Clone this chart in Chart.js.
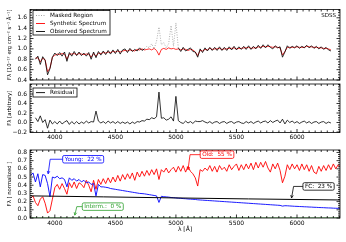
<!DOCTYPE html>
<html><head><meta charset="utf-8">
<script src="https://cdn.jsdelivr.net/npm/chart.js@4/dist/chart.umd.min.js"></script>
<style>
html,body{margin:0;padding:0;background:#fff;}
#wrap{position:relative;width:346px;height:242px;overflow:hidden;}
canvas{position:absolute;left:0;top:0;}
</style></head><body>
<div id="wrap">
<canvas id="c1" width="346" height="242"></canvas>
<canvas id="c2" width="346" height="242"></canvas>
<canvas id="c3" width="346" height="242"></canvas>
</div>
<script>
// ---- data (wavelength grid in Angstrom) ----
const wavelengths = [
3800,3820,3840,3860,3880,3900,3920,3940,3960,3980,
4000,4020,4040,4060,4080,4100,4120,4140,4160,4180,
4200,4220,4240,4260,4280,4300,4320,4340,4360,4380,
4400,4420,4440,4460,4480,4500,4520,4540,4560,4580,
4600,4620,4640,4660,4680,4700,4720,4740,4760,4780,
4800,4820,4840,4860,4880,4900,4920,4940,4960,4980,
5000,5020,5040,5060,5080,5100,5120,5140,5160,5180,
5200,5220,5240,5260,5280,5300,5320,5340,5360,5380,
5400,5420,5440,5460,5480,5500,5520,5540,5560,5580,
5600,5620,5640,5660,5680,5700,5720,5740,5760,5780,
5800,5820,5840,5860,5880,5900,5920,5940,5960,5980,
6000,6020,6040,6060,6080,6100,6120,6140,6160,6180,
6200,6220,6240,6260,6280,6300,6320,6340,6360];

const observed = [
null,null,0.80,0.86,0.70,0.85,0.78,0.50,0.62,0.84,
0.92,0.87,0.93,0.86,0.94,0.76,0.93,0.86,0.95,0.87,
0.94,0.87,0.92,0.86,0.93,0.80,0.94,0.83,0.95,0.88,
0.96,0.89,0.97,0.90,0.98,0.91,0.99,0.90,0.98,1.00,
0.93,1.01,0.95,0.99,0.96,1.02,0.97,1.00,null,null,
null,null,null,null,null,null,null,null,null,null,
null,1.02,0.95,1.03,0.96,0.99,1.02,0.95,0.94,0.84,
1.00,0.93,1.02,0.96,1.03,0.97,1.03,0.97,1.04,0.97,
1.03,0.97,1.04,0.98,1.05,0.98,1.04,0.99,1.05,0.99,
1.06,0.99,1.05,1.00,1.07,1.01,1.08,1.02,1.08,1.03,
1.00,1.06,1.02,1.04,0.84,0.94,1.06,1.01,1.05,1.02,
1.06,1.01,1.05,1.02,1.07,1.02,1.06,1.01,1.05,1.00,
1.04,0.99,1.03,0.98,0.96,null,null,null,null];

const masked = [
null,null,null,null,null,null,null,null,null,null,
null,null,null,null,null,null,null,null,null,null,
null,null,null,null,null,null,null,null,null,null,
null,null,null,null,null,null,null,null,null,null,
null,null,null,null,null,null,null,1.00,1.05,1.02,
1.10,1.00,1.15,1.42,1.08,1.12,1.02,1.10,1.45,1.05,
1.50,1.02,null,null,null,null,null,null,null,null,
null,null,null,null,null,null,null,null,null,null,
null,null,null,null,null,null,null,null,null,null,
null,null,null,null,null,null,null,null,null,null,
null,null,null,null,null,null,null,null,null,null,
null,null,null,null,null,null,null,null,null,null,
null,null,null,null,null,null,null,null,null];

const synthetic = [
null,null,0.82,0.83,0.75,0.82,0.79,0.56,0.63,0.84,
0.88,0.90,0.89,0.91,0.90,0.80,0.90,0.90,0.91,0.89,
0.91,0.90,0.89,0.90,0.90,0.84,0.91,0.86,0.92,0.91,
0.93,0.92,0.94,0.93,0.95,0.94,0.96,0.94,0.96,0.97,
0.96,0.98,0.97,0.96,0.99,0.98,1.00,0.98,0.99,1.00,
0.98,1.01,0.97,0.88,0.99,1.01,0.99,1.02,1.00,1.01,
0.99,1.00,0.98,1.00,0.99,0.97,0.99,0.98,0.94,0.87,
0.97,0.96,0.99,0.98,1.01,0.99,1.00,1.00,1.01,0.99,
1.00,1.00,1.01,1.01,1.02,1.00,1.01,1.01,1.02,1.02,
1.03,1.01,1.02,1.02,1.04,1.03,1.05,1.04,1.05,1.04,
1.03,1.04,1.03,1.02,0.88,0.95,1.03,1.03,1.03,1.03,
1.04,1.03,1.03,1.03,1.05,1.04,1.04,1.03,1.03,1.02,
1.02,1.01,1.01,1.00,0.98,null,null,null,null];

const residual = [
null,null,0.10,0.02,0.14,0.00,0.06,-0.12,0.05,-0.03,
0.02,-0.03,0.03,-0.03,0.01,0.04,-0.04,0.02,-0.03,0.02,
-0.03,0.01,-0.02,0.03,-0.01,0.02,0.01,0.24,0.03,-0.01,
0.02,-0.02,0.03,-0.01,0.02,-0.02,0.02,-0.02,0.01,-0.02,
0.01,-0.03,0.01,-0.02,0.02,0.01,0.04,0.03,0.07,0.06,
0.10,0.08,0.12,0.64,0.09,0.10,0.05,0.07,0.12,0.03,
0.55,0.04,0.00,-0.02,0.03,-0.01,0.02,-0.02,0.03,0.02,
0.02,0.04,0.01,-0.01,0.02,-0.02,0.01,0.02,-0.02,0.01,
0.02,-0.02,0.01,0.02,-0.02,0.01,0.02,-0.01,-0.02,0.02,
-0.01,0.02,-0.02,0.01,0.03,-0.01,0.02,0.03,-0.01,0.04,
0.00,0.03,0.05,-0.01,0.07,-0.03,0.05,0.00,0.03,-0.01,
0.02,-0.02,0.01,0.03,-0.01,0.02,-0.02,0.01,0.02,-0.02,
0.01,0.02,-0.02,0.01,-0.01,null,null,null,null];

const young = [
0.52,0.55,0.44,0.54,0.38,0.53,0.52,0.42,0.26,0.50,
0.49,0.51,0.48,0.49,0.47,0.38,0.49,0.46,0.48,0.45,
0.47,0.44,0.46,0.43,0.44,0.41,0.42,0.27,0.41,0.38,
0.38,0.375,0.37,0.36,0.355,0.35,0.345,0.34,0.335,0.33,
0.325,0.32,0.315,0.31,0.305,0.30,0.298,0.295,0.29,0.285,
0.28,0.275,0.27,0.19,0.265,0.26,0.258,0.255,0.25,0.248,
0.245,0.242,0.24,0.237,0.235,0.232,0.23,0.228,0.226,0.222,
0.22,0.218,0.216,0.214,0.212,0.21,0.208,0.206,0.204,0.202,
0.20,0.198,0.196,0.194,0.192,0.19,0.188,0.186,0.184,0.182,
0.18,0.178,0.176,0.174,0.172,0.17,0.168,0.166,0.164,0.162,
0.16,0.158,0.156,0.154,0.145,0.15,0.149,0.147,0.145,0.143,
0.142,0.14,0.139,0.137,0.136,0.134,0.133,0.131,0.13,0.128,
0.127,0.126,0.124,0.123,0.122,0.12,0.119,0.118,0.117];

const old = [
0.24,0.27,0.19,0.15,0.23,0.26,0.18,0.06,0.09,0.23,
0.37,0.41,0.35,0.42,0.36,0.29,0.43,0.37,0.44,0.36,
0.43,0.41,0.37,0.46,0.40,0.32,0.46,0.35,0.47,0.41,
0.48,0.42,0.49,0.43,0.50,0.44,0.52,0.45,0.53,0.47,
0.54,0.48,0.55,0.46,0.56,0.50,0.57,0.51,0.58,0.52,
0.59,0.53,0.60,0.47,0.59,0.56,0.61,0.55,0.59,0.62,
0.56,0.63,0.57,0.64,0.56,0.63,0.57,0.54,0.49,0.39,
0.59,0.57,0.61,0.58,0.64,0.57,0.63,0.56,0.64,0.59,
0.62,0.57,0.65,0.59,0.63,0.66,0.58,0.65,0.59,0.66,
0.60,0.67,0.59,0.68,0.61,0.68,0.62,0.69,0.61,0.56,
0.66,0.60,0.67,0.58,0.43,0.51,0.65,0.59,0.66,0.60,
0.65,0.58,0.66,0.59,0.65,0.57,0.64,0.56,0.54,0.63,
0.57,0.64,0.58,0.65,0.59,0.66,0.60,0.65,0.62];

const fcWave = [3800, 4400, 5000, 5600, 6360];
const fcFlux = [0.270, 0.258, 0.245, 0.233, 0.220];
const intermWave = [3800, 6360];
const intermFlux = [0, 0];

const xTicks = [4000, 4500, 5000, 5500, 6000];
const yTicksTop = [0.4, 0.6, 0.8, 1.0, 1.2, 1.4, 1.6];
const yTicksMid = [-0.2, 0.0, 0.2, 0.4, 0.6];
const yTicksBot = [0.0, 0.1, 0.2, 0.3, 0.4, 0.5, 0.6, 0.7, 0.8];

const annotations = [
  {text:'Young:  22 %', color:'#0000ff', x:3945, y:0.54, dx:35, dy:-14.5},
  {text:'Old:  55 %', color:'#ff0000', x:5100, y:0.59, dx:29, dy:-15},
  {text:'FC:  23 %', color:'#000000', x:5955, y:0.245, dx:27, dy:-11.5},
  {text:'Interm.:  0 %', color:'#2ca02c', x:4165, y:0.035, dx:28, dy:-8.5}
];

// ---- helpers ----
const X_MIN = 3795, X_MAX = 6355;
const FONT = "'DejaVu Sans', sans-serif";
Chart.defaults.font.family = FONT;
Chart.defaults.color = '#000';
const pts = (wv, vals) => wv.map((w, i) => ({x: w, y: vals[i]}));
const fmt = v => (v < -1e-9 ? '\u2212' : '') + Math.abs(v).toFixed(1);

function xScale(showLabels, height, title) {
  return {
    type: 'linear', min: X_MIN, max: X_MAX,
    grid: {display: false, drawTicks: false}, border: {display: false},
    afterBuildTicks: s => { s.ticks = xTicks.map(v => ({value: v})); },
    afterFit: s => { s.height = height; },
    ticks: {display: showLabels, font: {size: 6}, padding: 1.5, maxRotation: 0, autoSkip: false, callback: v => String(v)},
    title: title ? {display: true, text: title, font: {size: 6}, padding: 0} : {display: false}
  };
}
function yScale(min, max, ticks, title) {
  return {
    type: 'linear', min, max,
    grid: {display: false, drawTicks: false}, border: {display: false},
    afterBuildTicks: s => { s.ticks = ticks.map(v => ({value: v})); },
    afterFit: s => { s.width = 24; },
    ticks: {font: {size: 6}, padding: 3, autoSkip: false, callback: v => fmt(v)},
    title: {display: true, text: title, font: {size: 5.3}, padding: 0}
  };
}

const framePlugin = {
  id: 'frame',
  afterDatasetsDraw(chart, args, o) {
    const {ctx, chartArea: a} = chart;
    const x = chart.scales.x, y = chart.scales.y;
    ctx.save();
    ctx.strokeStyle = '#000'; ctx.lineWidth = 0.8;
    ctx.beginPath();
    const vt = (p, len) => { ctx.moveTo(p, a.bottom); ctx.lineTo(p, a.bottom - len); ctx.moveTo(p, a.top); ctx.lineTo(p, a.top + len); };
    const ht = (p, len) => { ctx.moveTo(a.left, p); ctx.lineTo(a.left + len, p); ctx.moveTo(a.right, p); ctx.lineTo(a.right - len, p); };
    xTicks.forEach(v => vt(x.getPixelForValue(v), 3.5));
    const xs = Math.ceil(x.min / o.xMinor);
    for (let k = xs; k * o.xMinor <= x.max; k++) {
      const v = k * o.xMinor;
      if (xTicks.some(t => Math.abs(t - v) < 1e-6)) continue;
      vt(x.getPixelForValue(v), 2);
    }
    const majors = y.ticks.map(t => t.value);
    majors.forEach(v => ht(y.getPixelForValue(v), 3.5));
    const ys = Math.ceil(y.min / o.yMinor - 1e-9);
    for (let k = ys; k * o.yMinor <= y.max + 1e-9; k++) {
      const v = k * o.yMinor;
      if (majors.some(t => Math.abs(t - v) < 1e-6)) continue;
      ht(y.getPixelForValue(v), 2);
    }
    ctx.stroke();
    ctx.strokeRect(a.left, a.top, a.right - a.left, a.bottom - a.top);
    ctx.restore();
  }
};

const legendPlugin = {
  id: 'boxLegend',
  afterDraw(chart, args, o) {
    if (!o || !o.items) return;
    const {ctx, chartArea: a} = chart;
    const L = a.left + o.dx, T = a.top + o.dy;
    ctx.save();
    ctx.fillStyle = '#fff'; ctx.fillRect(L, T, o.w, o.h);
    ctx.strokeStyle = '#000'; ctx.lineWidth = 0.8; ctx.strokeRect(L, T, o.w, o.h);
    ctx.font = o.size + 'px ' + FONT; ctx.textBaseline = 'middle'; ctx.textAlign = 'left';
    for (let i = 0; i < o.items.length; i++) {
      const label = o.items[i];
      const ds = chart.data.datasets.find(d => d.label === label);
      const yy = T + o.first + i * o.gap;
      ctx.beginPath(); ctx.strokeStyle = ds.borderColor; ctx.lineWidth = 0.9;
      ctx.setLineDash(ds.borderDash ? [1, 1.5] : []);
      ctx.moveTo(L + 3, yy); ctx.lineTo(L + 12, yy); ctx.stroke(); ctx.setLineDash([]);
      ctx.fillStyle = '#000'; ctx.fillText(label, L + 17, yy);
    }
    if (o.corner) {
      ctx.textAlign = 'right'; ctx.font = '5.5px ' + FONT;
      ctx.fillText(o.corner, a.right - 4, a.top + 6);
    }
    ctx.restore();
  }
};

const annotPlugin = {
  id: 'annot',
  afterDraw(chart, args, o) {
    if (!o || !o.on) return;
    const {ctx} = chart;
    const x = chart.scales.x, y = chart.scales.y;
    ctx.save();
    ctx.font = '5.7px ' + FONT; ctx.textBaseline = 'middle'; ctx.textAlign = 'center';
    annotations.forEach(an => {
      const tx = x.getPixelForValue(an.x), ty = y.getPixelForValue(an.y);
      const cx = tx + an.dx, cy = ty + an.dy;
      const w = ctx.measureText(an.text).width + 4, h = 7.5;
      const bl = cx - w / 2;
      ctx.strokeStyle = an.color; ctx.lineWidth = 0.8;
      ctx.beginPath();
      ctx.moveTo(bl, cy); ctx.lineTo(tx + 2, cy); ctx.lineTo(tx, ty); ctx.stroke();
      const ang = Math.atan2(ty - cy, -2);
      ctx.beginPath();
      ctx.moveTo(tx - 3 * Math.cos(ang - 0.45), ty - 3 * Math.sin(ang - 0.45));
      ctx.lineTo(tx, ty);
      ctx.lineTo(tx - 3 * Math.cos(ang + 0.45), ty - 3 * Math.sin(ang + 0.45));
      ctx.stroke();
      ctx.beginPath();
      ctx.roundRect(bl, cy - h / 2, w, h, 1.5);
      ctx.fillStyle = '#fff'; ctx.fill(); ctx.stroke();
      ctx.fillStyle = an.color; ctx.fillText(an.text, cx, cy + 0.3);
    });
    ctx.restore();
  }
};

const common = {
  responsive: false, animation: false, devicePixelRatio: 1,
  elements: {point: {radius: 0}, line: {tension: 0, borderWidth: 0.8}},
  events: []
};

new Chart(document.getElementById('c1'), {
  type: 'line',
  data: {datasets: [
    {label: 'Observed Spectrum', data: pts(wavelengths, observed), borderColor: '#000000', borderWidth: 0.8},
    {label: 'Masked Region', data: pts(wavelengths, masked), borderColor: '#9a9a9a', borderWidth: 0.8, borderDash: [1, 1.5]},
    {label: 'Synthetic Spectrum', data: pts(wavelengths, synthetic), borderColor: '#ff0000', borderWidth: 0.8}
  ]},
  options: Object.assign({}, common, {
    layout: {padding: {left: 6, right: 6, top: 9.5, bottom: 162}},
    scales: {x: xScale(false, 0, null), y: yScale(0.4, 1.76, yTicksTop, 'F\u03bb [10\u207b\u00b9\u2077 erg cm\u207b\u00b2 s\u207b\u00b9 \u00c5\u207b\u00b9]')},
    plugins: {legend: {display: false}, tooltip: {enabled: false},
      frame: {xMinor: 50, yMinor: 0.05},
      boxLegend: {items: ['Masked Region', 'Synthetic Spectrum', 'Observed Spectrum'], dx: 3, dy: 1, w: 77, h: 24.5, first: 5, gap: 8, size: 5.7, corner: 'SDSS'}}
  }),
  plugins: [framePlugin, legendPlugin]
});

new Chart(document.getElementById('c2'), {
  type: 'line',
  data: {datasets: [
    {label: 'Residual', data: pts(wavelengths, residual), borderColor: '#000000', borderWidth: 0.8}
  ]},
  options: Object.assign({}, common, {
    layout: {padding: {left: 6, right: 6, top: 84, bottom: 99.5}},
    scales: {x: xScale(true, 10, null), y: yScale(-0.21, 0.81, yTicksMid, 'F\u03bb [arbitrary]')},
    plugins: {legend: {display: false}, tooltip: {enabled: false},
      frame: {xMinor: 50, yMinor: 0.05},
      boxLegend: {items: ['Residual'], dx: 3, dy: 4, w: 44, h: 9, first: 4.6, gap: 0, size: 5.7}}
  }),
  plugins: [framePlugin, legendPlugin]
});

new Chart(document.getElementById('c3'), {
  type: 'line',
  data: {datasets: [
    {label: 'FC', data: pts(fcWave, fcFlux), borderColor: '#000000', borderWidth: 1},
    {label: 'Young', data: pts(wavelengths, young), borderColor: '#0000ff', borderWidth: 0.9},
    {label: 'Old', data: pts(wavelengths, old), borderColor: '#ff0000', borderWidth: 0.9},
    {label: 'Interm.', data: pts(intermWave, intermFlux), borderColor: '#2ca02c', borderWidth: 0.9}
  ]},
  options: Object.assign({}, common, {
    layout: {padding: {left: 6, right: 6, top: 150, bottom: 9.4}},
    scales: {x: xScale(true, 14.6, '\u03bb [\u00c5]'), y: yScale(0, 0.83, yTicksBot, 'F\u03bb [ normalized ]')},
    plugins: {legend: {display: false}, tooltip: {enabled: false},
      frame: {xMinor: 50, yMinor: 0.025},
      annot: {on: true}}
  }),
  plugins: [framePlugin, annotPlugin]
});
</script>
</body></html>
